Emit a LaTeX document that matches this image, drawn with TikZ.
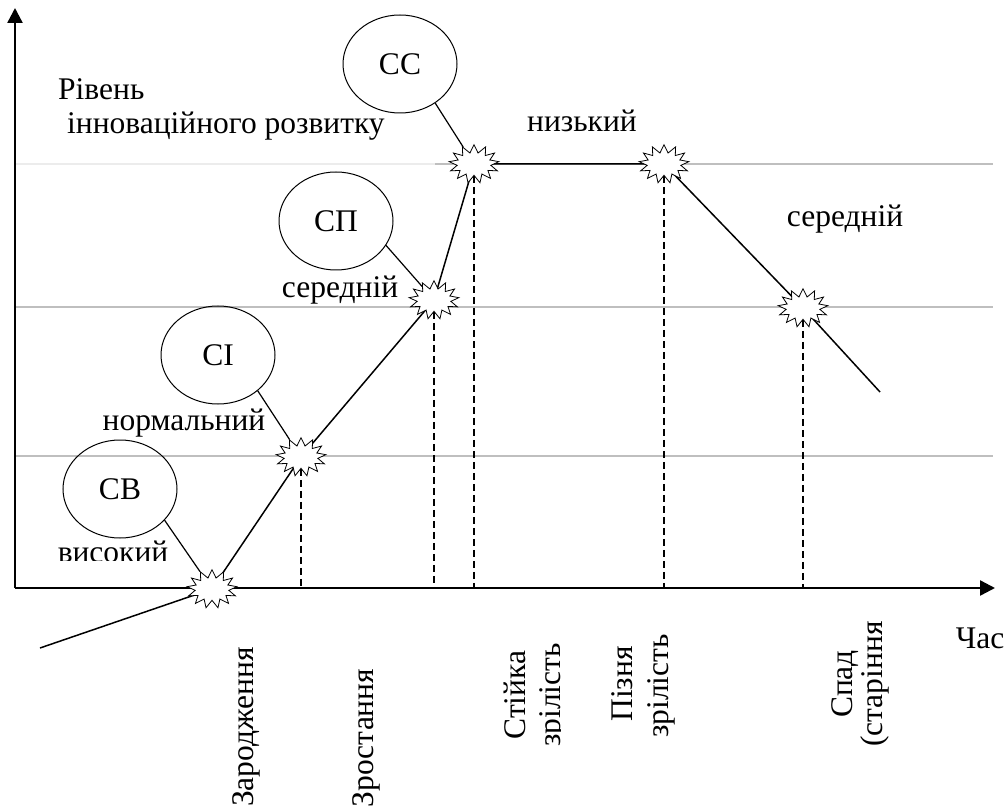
\documentclass[tikz,border=0pt]{standalone}
\usepackage{fontspec}
\setmainfont{Liberation Serif}
\usetikzlibrary{arrows.meta,shapes.geometric,shapes.symbols}

\begin{document}
\begin{tikzpicture}[x=1pt,y=-1pt,
    txt/.style={font=\fontsize{31.5}{34}\selectfont, inner sep=0pt},
    oval/.style={ellipse, draw, line width=1pt, minimum width=114pt, minimum height=98pt, inner sep=0pt, font=\fontsize{31.5}{34}\selectfont},
    burst/.style={starburst, draw, fill=white, line width=0.8pt, starburst points=13, starburst point height=8pt, random starburst=0, inner xsep=12pt, inner ysep=8pt},
    stage/.style={txt, rotate=90, anchor=base},
    lvl/.style={draw=gray!50, line width=1.5pt},
    axis/.style={line width=2.4pt, -{Triangle[length=15pt,width=15pt]}},
    drop/.style={line width=1.3pt, dash pattern=on 7pt off 4pt}]
  \useasboundingbox (0,0) rectangle (1007,810);
  % levels
  \draw[lvl, draw=gray!15] (15,164) -- (435,164);
  \draw[lvl] (435,164) -- (993,164);
  \draw[lvl] (15,307) -- (993,307);
  \draw[lvl] (15,456) -- (993,456);
  % axes
  \coordinate (o) at (15,588);
  \draw[axis] (o) -- (15,8);
  \draw[axis] (o) -- (995,588);
  % life cycle curve
  \coordinate (p0) at (40,648);
  \coordinate (p1) at (212,589);
  \coordinate (p2) at (301,457);
  \coordinate (p3) at (434,300);
  \coordinate (p4) at (474,164);
  \coordinate (p5) at (664,164);
  \coordinate (p6) at (803,308);
  \coordinate (p7) at (880,392);
  \draw[line width=1.5pt] (p0) -- (p1) -- (p2) -- (p3) -- (p4) -- (p5) -- (p6) -- (p7);
  \foreach \i in {1,...,6}
    \node[burst] (s\i) at (p\i) {};
  % drop lines
  \foreach \i in {2,...,6}
    \draw[drop] (s\i.south) -- (s\i.south |- o);
  % strategies
  \node[oval] (cc) at (400,64) {СС};
  \node[oval] (cp) at (336,221) {СП};
  \node[oval] (ci) at (218,355) {СІ};
  \node[oval] (cb) at (120,489) {СВ};
  \draw[line width=1.2pt] (cc.-48) -- (s4);
  \draw[line width=1.2pt] (cp.-26) -- (s3);
  \draw[line width=1.2pt] (ci.-42) -- (s2);
  \draw[line width=1.2pt] (cb.-35) -- (s1);
  % levels text
  \node[txt, anchor=base west] (rv) at (58,100) {Рівень};
  \node[txt, anchor=base west] (ir) at (67,134) {інноваційного розвитку};
  \node[txt, anchor=base] (nz) at (582,132) {низький};
  \node[txt, anchor=base] (sr2) at (845,227) {середній};
  \node[txt, anchor=base] (sr1) at (340,298) {середній};
  \node[txt, anchor=base] (nm) at (184,430) {нормальний};
  \begin{scope}
    \clip (50,530) rectangle (200,560);
    \node[txt, anchor=base] (vs) at (113,562) {високий};
  \end{scope}
  \node[txt, anchor=base] (ch) at (980,648) {Час};
  % stages
  \node[stage] (z1) at (253,727) {Зародження};
  \node[stage] (z2) at (373,738) {Зростання};
  \node[stage] (z3) at (525,695) {Стійка};
  \begin{scope}
    \clip (530,600) rectangle (560,800);
    \node[stage] (z4) at (560,695) {зрілість};
  \end{scope}
  \node[stage] (z5) at (632,684) {Пізня};
  \node[stage] (z6) at (668,686) {зрілість};
  \node[stage] (z7) at (852,684) {Спад};
  \node[stage] (z8) at (882,684) {(старіння};
\end{tikzpicture}
\end{document}
